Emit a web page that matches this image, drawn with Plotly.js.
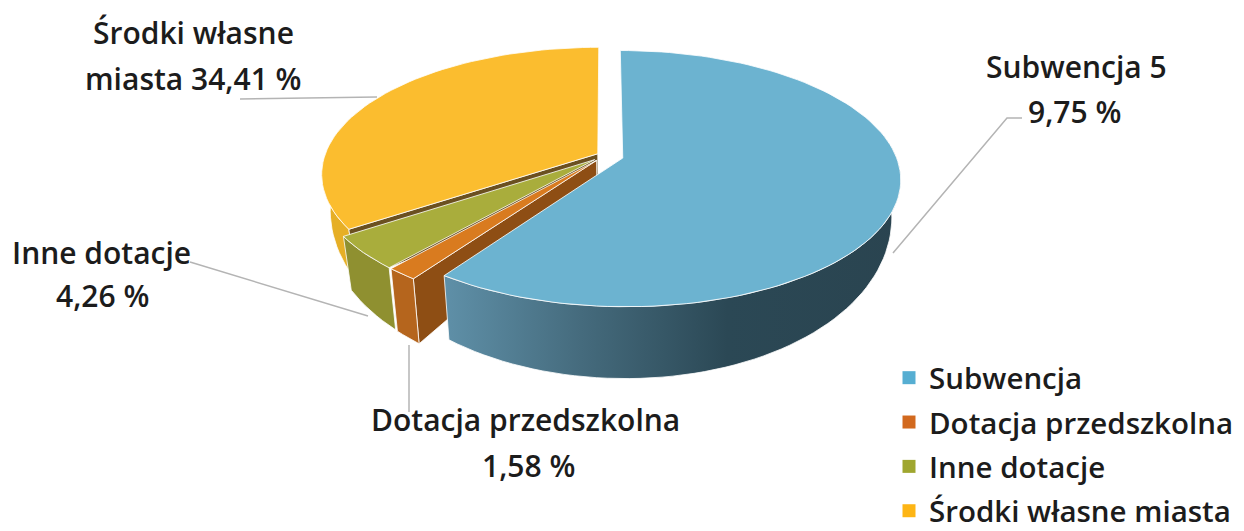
<!DOCTYPE html>
<html><head><meta charset="utf-8">
<script src="https://cdn.plot.ly/plotly-3.0.1.min.js"></script>
<style>html,body{margin:0;padding:0;background:#fff;overflow:hidden;height:531px}#c{width:1244px;height:531px;overflow:hidden}</style></head>
<body><div id="c"></div>
<script>
// --- data ---
const categories = ['Subwencja', 'Dotacja przedszkolna', 'Inne dotacje', 'Środki własne miasta'];
const values = [59.75, 1.58, 4.26, 34.41];
const labelLines = [['Subwencja 5', '9,75 %'], ['Dotacja przedszkolna', '1,58 %'], ['Inne dotacje', '4,26 %'], ['Środki własne', 'miasta 34,41 %']];
const labelX = [[1076, 1074], [525, 528], [101, 102], [193, 193]];
const labelY = [[66, 111], [419, 465], [252, 295], [32, 78]];
const topColors = ['#6cb3d0', '#d97b1f', '#a9ad3c', '#fbbd2f'];
const sideColors = ['#3f6373', '#b5651d', '#8f9030', '#e6af26'];
const wallColors = ['#3f6373', '#8e4e14', '#6f6a24', '#6b5020'];
const legendColors = ['#56aed2', '#d2691e', '#9fa62f', '#fdb515'];
const explode = [0.068, 0.05, 0.05, 0.03];
const leaderX = [[1022, 1007, 893], [409, 409], [190, 368], [377, 240]];
const leaderY = [[118, 118, 253], [345, 412], [262, 316], [97, 99]];

// --- projection of the tilted pie ---
const cx = 605, cy = 155.5, a = 273, b = 124, p = 0.16, shrink = 0.97;
const plotH = 570;
const rad = d => d * Math.PI / 180;
const project = (u, v, low) => {
  const k = 1 + p * v;
  let x = cx + a * u / k, y = cy - b * v / k;
  if (low) { x = cx + shrink * (x - cx); y += 29 - 42 * v; }
  return [x, y];
};
const total = values.reduce((s, v) => s + v, 0);
let cursor = 0;
const slices = values.map((v, i) => {
  const start = cursor, end = cursor + v / total * 360; cursor = end;
  const mid = rad((start + end) / 2);
  return { start, end, ex: explode[i] * Math.sin(mid), ey: explode[i] * Math.cos(mid), i };
});
const rimPoint = (s, deg, low) => project(Math.sin(rad(deg)) + s.ex, Math.cos(rad(deg)) + s.ey, low);
const arc = (s, d0, d1, low) => {
  const n = Math.max(4, Math.ceil(Math.abs(d1 - d0) / 2)), pts = [];
  for (let j = 0; j <= n; j++) pts.push(rimPoint(s, d0 + (d1 - d0) * j / n, low));
  return pts;
};
const poly = (pts, fill, extra) => Object.assign({
  type: 'scatter', mode: 'lines', x: pts.map(q => q[0]).concat(pts[0][0]), y: pts.map(q => q[1]).concat(pts[0][1]),
  fill: 'toself', fillcolor: fill, line: { color: '#ffffff', width: 0.8 }, hoverinfo: 'skip', showlegend: false
}, extra || {});
const topFace = s => poly([project(s.ex, s.ey)].concat(arc(s, s.start, s.end)), topColors[s.i]);
const outerWall = (s, d0, d1, extra) => poly(arc(s, d0, d1).concat(arc(s, d0, d1, true).reverse()), sideColors[s.i], extra);
const radialWall = (s, d) => poly([project(s.ex, s.ey), rimPoint(s, d), rimPoint(s, d, true), project(s.ex, s.ey, true)], wallColors[s.i]);

const [blue, orange, olive, yellow] = slices;
const traces = [
  outerWall(yellow, yellow.start, 292),
  radialWall(yellow, yellow.start), topFace(yellow),
  outerWall(olive, olive.start, olive.end), topFace(olive),
  radialWall(orange, orange.start),
  outerWall(orange, orange.start, orange.end), topFace(orange),
  outerWall(blue, 78, blue.end, {
    fillcolor: undefined,
    fillgradient: { type: 'horizontal', colorscale: [[0, '#5f90a8'], [0.3, '#456b7d'], [0.62, '#2b4855'], [1, '#2a4450']] }
  }),
  topFace(blue)
];
categories.forEach((c, i) => traces.push({
  type: 'scatter', mode: 'markers', x: [null], y: [null], name: c, legendgroup: c,
  marker: { symbol: 'square', size: 13, color: legendColors[i] }, hoverinfo: 'skip'
}));

const font = { family: '"Open Sans", sans-serif', size: 30, color: '#1c1c1c', weight: 600 };
const legendFont = { family: '"Open Sans", sans-serif', size: 29.5, color: '#1c1c1c', weight: 600 };
const annotations = [];
labelLines.forEach((lines, i) => lines.forEach((t, j) => annotations.push({
  x: labelX[i][j], y: labelY[i][j], xref: 'x', yref: 'y', text: t, showarrow: false,
  xanchor: 'center', yanchor: 'middle', font
})));
const shapes = leaderX.map((xs, i) => ({
  type: 'path', xref: 'x', yref: 'y',
  path: xs.map((x, j) => (j ? 'L' : 'M') + x + ',' + leaderY[i][j]).join(' '),
  line: { color: '#b4b4b4', width: 1.5 }
}));

Plotly.newPlot('c', traces, {
  width: 1244, height: plotH, margin: { l: 0, r: 0, t: 0, b: 0 },
  paper_bgcolor: '#fff', plot_bgcolor: '#fff',
  xaxis: { range: [0, 1244], visible: false, fixedrange: true },
  yaxis: { range: [plotH, 0], visible: false, fixedrange: true },
  legend: { x: 889 / 1244, y: 1 - 352 / plotH, xanchor: 'left', yanchor: 'top', font: legendFont, tracegroupgap: 3, bgcolor: 'rgba(0,0,0,0)', itemwidth: 30 },
  annotations, shapes
}, { displayModeBar: false, staticPlot: true });
</script></body></html>
